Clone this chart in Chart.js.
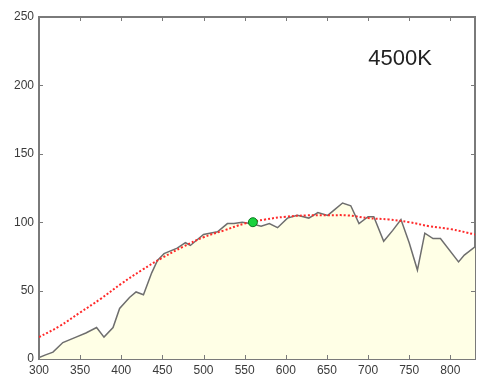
<!DOCTYPE html>
<html>
<head>
<meta charset="utf-8">
<script src="https://cdn.jsdelivr.net/npm/chart.js@4"></script>
<style>
  html, body { margin: 0; padding: 0; background: #fff; }
  #wrap { width: 482px; height: 381px; position: relative; }
</style>
</head>
<body>
<div id="wrap"><canvas id="chart-main"></canvas></div>
<script>
// measured spectrum (wavelength nm / relative power)
const specWl  = [300, 308, 317, 329, 345, 357, 370, 379, 390, 398, 410, 418, 427, 437, 444, 452, 468, 478, 484, 500,
                 517, 529, 537, 547, 557, 570, 580, 590, 602, 614, 628, 639, 651, 659, 669, 679, 689, 700, 707, 719,
                 730, 740, 750, 760, 769, 779, 788, 810, 817, 830];
const specVal = [1, 3, 5, 12, 16, 19, 23, 16, 23, 37, 45, 49, 47, 63, 72, 77, 81, 85, 83, 91,
                 93, 99, 99, 100, 99, 97, 99, 96, 103, 105, 103, 107, 105, 109, 114, 112, 99, 104, 104, 86,
                 94, 102, 85, 65, 92, 88, 88, 71, 76, 82];

// reference black body curve (red dotted)
const refWl  = [300, 325, 350, 375, 400, 425, 450, 475, 500, 525, 550, 575, 600, 625, 650, 675, 700, 725, 750, 775, 800, 830];
const refVal = [16, 24, 34, 44, 55, 65, 74, 82, 89, 94, 99, 102, 104, 105, 105, 105, 103, 102, 100, 97, 95, 91];

// normalisation point
const markWl = [560];
const markVal = [100];

const xTicks = [300, 350, 400, 450, 500, 550, 600, 650, 700, 750, 800];
const yTicks = [0, 50, 100, 150, 200, 250];
const label = '4500K';

const pts = (xs, ys) => xs.map((x, i) => ({ x, y: ys[i] }));

const axisGray = '#7a7a7a';
const setTicks = list => s => { s.ticks = list.map(v => ({ value: v })); };

// inward tick marks on all four sides + temperature label
const boxPlugin = {
  id: 'boxTicks',
  afterDraw(chart) {
    const c = chart.ctx;
    const a = chart.chartArea;
    const xs = chart.scales.x, ys = chart.scales.y;
    const len = 4;
    c.save();
    c.strokeStyle = axisGray;
    c.lineWidth = 1;
    c.beginPath();
    xTicks.forEach(v => {
      const px = Math.round(xs.getPixelForValue(v)) + 0.5;
      c.moveTo(px, a.bottom); c.lineTo(px, a.bottom - len);
      c.moveTo(px, a.top); c.lineTo(px, a.top + len);
    });
    yTicks.forEach(v => {
      const py = Math.round(ys.getPixelForValue(v)) + 0.5;
      c.moveTo(a.left, py); c.lineTo(a.left + len, py);
      c.moveTo(a.right, py); c.lineTo(a.right - len, py);
    });
    c.stroke();

    c.font = '22px "Liberation Sans", Arial, sans-serif';
    c.fillStyle = '#222';
    c.textAlign = 'center';
    c.textBaseline = 'middle';
    c.fillText(label, 400, 59);
    c.restore();
  }
};

new Chart(document.getElementById('chart-main'), {
  type: 'line',
  data: {
    datasets: [
      { data: pts(markWl, markVal), type: 'scatter', pointRadius: 4.5, pointBackgroundColor: '#19d23c',
        pointBorderColor: '#0b7a22', pointBorderWidth: 1, order: 0 },
      { data: pts(refWl, refVal), borderColor: '#ff2a2a', borderWidth: 2, borderDash: [2, 2],
        pointRadius: 0, tension: 0.4, fill: false, order: 1 },
      { data: pts(specWl, specVal), borderColor: '#6e6e6e', borderWidth: 1.5, pointRadius: 0,
        tension: 0, fill: 'origin', backgroundColor: '#ffffe6', order: 2 }
    ]
  },
  options: {
    responsive: true, maintainAspectRatio: false, animation: false,
    layout: { padding: { top: 17, right: 7, left: 0, bottom: 0 } },
    plugins: { legend: { display: false }, tooltip: { enabled: false } },
    scales: {
      x: {
        type: 'linear', min: 300, max: 830, position: 'bottom',
        afterBuildTicks: setTicks(xTicks),
        afterFit: s => { s.height = 22; },
        grid: { drawOnChartArea: false, drawTicks: false },
        border: { color: axisGray, width: 2 },
        ticks: { padding: 4, color: '#3a3a3a', font: { size: 12, family: 'Liberation Sans' }, maxRotation: 0 }
      },
      x2: {
        type: 'linear', min: 300, max: 830, position: 'top',
        afterFit: s => { s.height = 0; },
        grid: { drawOnChartArea: false, drawTicks: false },
        border: { color: axisGray, width: 2 },
        ticks: { display: false }
      },
      y: {
        type: 'linear', min: 0, max: 250, position: 'left',
        afterBuildTicks: setTicks(yTicks),
        afterFit: s => { s.width = 39; },
        grid: { drawOnChartArea: false, drawTicks: false },
        border: { color: axisGray, width: 2 },
        ticks: { padding: 5, color: '#3a3a3a', font: { size: 12, family: 'Liberation Sans' } }
      },
      y2: {
        type: 'linear', min: 0, max: 250, position: 'right',
        afterFit: s => { s.width = 0; },
        grid: { drawOnChartArea: false, drawTicks: false },
        border: { color: axisGray, width: 2 },
        ticks: { display: false }
      }
    }
  },
  plugins: [boxPlugin]
});
</script>
</body>
</html>
